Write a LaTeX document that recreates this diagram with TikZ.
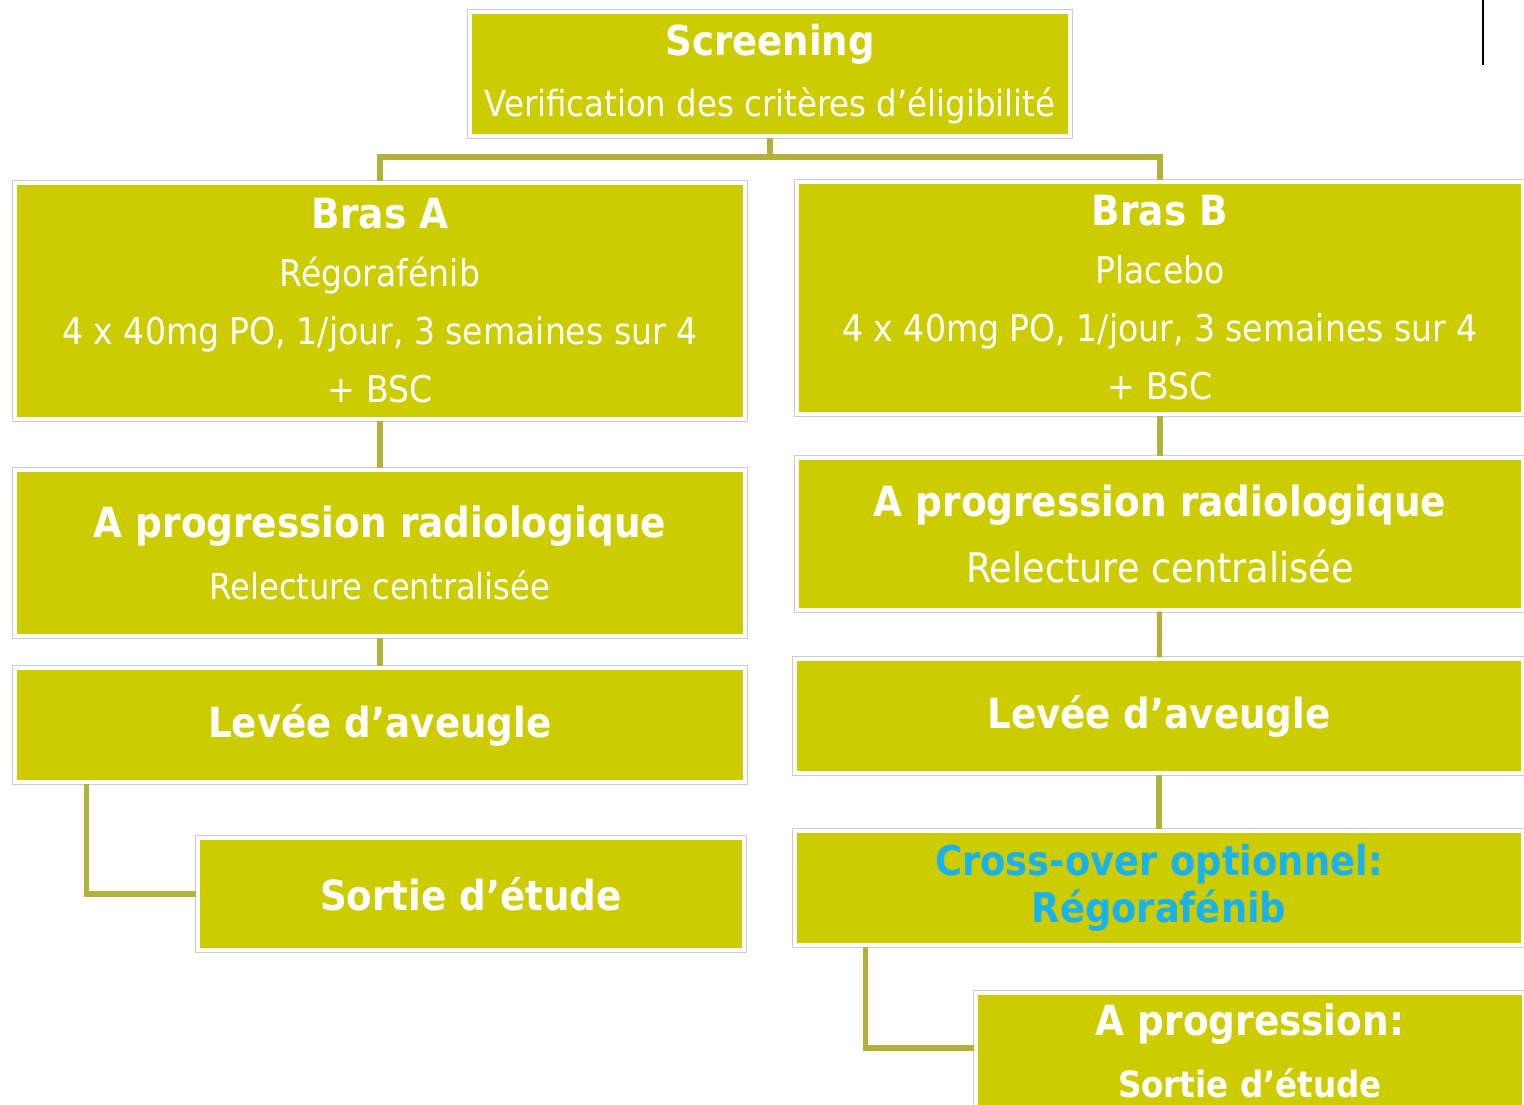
\documentclass[tikz,border=0pt]{standalone}
\usepackage{fontspec}
\setmainfont{DejaVu Sans Condensed}
\usepackage{xcolor}
\usetikzlibrary{positioning,calc}
\definecolor{armolive}{HTML}{CCCC00}
\definecolor{linkolive}{HTML}{B2B23A}
\definecolor{crossblue}{HTML}{18B2EE}

\begin{document}
\begin{tikzpicture}[
  x=0.5pt, y=-0.5pt,
  armbox/.style={fill=armolive, draw=white, line width=1.6pt,
                 preaction={draw=black!20, line width=3.2pt},
                 text=white, align=center, inner sep=0pt},
  link/.style={draw=linkolive, line width=2.6pt},
  bigbold/.style={font=\bfseries\fontsize{20.7}{24}\selectfont},
  armtext/.style={font=\fontsize{18.4}{29}\selectfont}
]
  \useasboundingbox (0,0) rectangle (1524,1104);
  \clip (0,0) rectangle (1524,1104);

  % screening and arms
  \node[armbox, minimum width=300pt, minimum height=62pt, font=\fontsize{18}{30.5}\selectfont] (screen) at (770,74)
    {{\bfseries\fontsize{20.6}{30.5}\selectfont Screening}\\Verification des critères d’éligibilité};
  \node[armbox, armtext, minimum width=365pt, minimum height=118pt] (brasA) at (380,301)
    {{\bfseries\fontsize{20.8}{29}\selectfont Bras A}\\Régorafénib\\4 x 40mg PO, 1/jour, 3 semaines sur 4\\+ BSC};
  \node[armbox, armtext, minimum width=363pt, minimum height=116pt] (brasB) at (1160,298)
    {{\bfseries\fontsize{20.8}{29}\selectfont Bras B}\\Placebo\\4 x 40mg PO, 1/jour, 3 semaines sur 4\\+ BSC};

  % radiological progression
  \node[armbox, minimum width=365pt, minimum height=83pt, font=\fontsize{17.9}{31}\selectfont] (progA) at (380,553)
    {{\bfseries\fontsize{20.8}{31}\selectfont A progression radiologique}\\Relecture centralisée};
  \node[armbox, minimum width=363pt, minimum height=76pt, font=\fontsize{20.4}{33}\selectfont] (progB) at (1160,534)
    {{\bfseries\fontsize{20.8}{33}\selectfont A progression radiologique}\\Relecture centralisée};

  % unblinding
  \node[armbox, bigbold, minimum width=365pt, minimum height=57pt] (levA) at (380,725) {\raisebox{-1.5pt}{Levée d’aveugle}};
  \node[armbox, bigbold, minimum width=364pt, minimum height=57pt] (levB) at (1159,716) {\raisebox{-1.5pt}{Levée d’aveugle}};

  % exits
  \node[armbox, bigbold, minimum width=273pt, minimum height=56pt] (exitA) at (471,894) {Sortie d’étude};
  \node[armbox, minimum width=364pt, minimum height=57pt, text=crossblue,
        font=\bfseries\fontsize{20.5}{23.5}\selectfont] (cross) at (1159,888)
    {Cross-over optionnel:\\Régorafénib};
  \node[armbox, minimum width=274pt, minimum height=58pt,
        font=\bfseries\fontsize{18.1}{31}\selectfont] (exitB) at (1250,1051)
    {{\fontsize{20.8}{31}\selectfont A progression:}\\Sortie d’étude};

  \coordinate (split) at (770,157);
  \draw[link] (screen) -- (split);
  \draw[link] (split) -| (brasA);
  \draw[link] (split) -| (brasB);
  \draw[link] (brasA) -- (progA);
  \draw[link] (brasB) -- (progB);
  \draw[link] (progA) -- (levA);
  \draw[link] (progB) -- (levB);
  \draw[link] (levB) -- (cross);
  \draw[link] ([xshift=36.5pt]levA.south west) |- (exitA);
  \draw[link] ([xshift=36pt]cross.south west) |- ([yshift=1.5pt]exitB.west);

  \draw[line width=1.2pt] (1483,0) -- (1483,65);
\end{tikzpicture}
\end{document}
